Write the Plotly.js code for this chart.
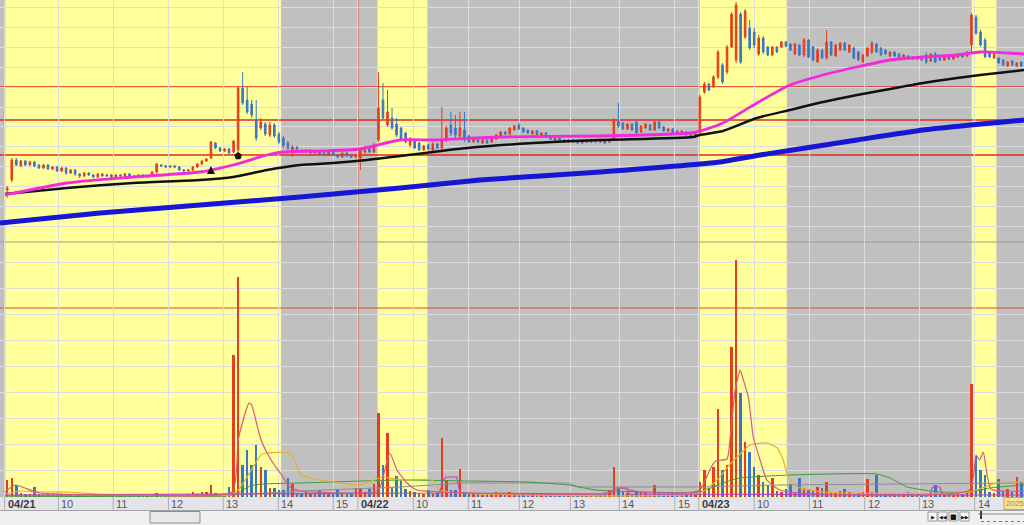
<!DOCTYPE html>
<html><head><meta charset="utf-8">
<script src="https://cdn.plot.ly/plotly-3.0.1.min.js"></script>
<style>html,body{margin:0;padding:0;background:#F0F0F0;overflow:hidden}#chart{width:1024px;height:525px}</style>
</head><body><div id="chart"></div>
<script>
// ---- candles (5-minute bars, arbitrary price units) ----
const open = [
60,70,90,84,89,85,88,85,82,85, 81,83,79,82,77,80,76,74,77,75,
73,76,74,75,73,75,74,76,74,73, 75,73,74,78,85,84,83,84,83,80,
79,80,83,86,89,92,107,102,99,101, 98,100,162,150,146,130,122,126,115,125,
116,112,107,100,103,100,98,100,97,99, 97,95,98,95,93,97,94,93,
92,98,102,98,110,150,125,132,126,122, 117,105,110,107,100,105,100,106,102,110,
125,122,114,120,114,108,112,107,110,108, 111,114,118,116,120,125,122,120,116,119,
114,117,114,110,112,110,108,110,109,107, 109,108,110,108,109,108,110,129,127,121,
126,128,118,122,125,120,128,123,119,121, 119,116,118,116,113,
117,158,166,163,173,185,178,203,190,236, 213,222,218,196,212,203,195,203,203,208,
206,196,205,195,210,203,188,200,192,208, 194,200,207,198,202,198,188,194,198,206,
202,200,194,198,196,193,194,193,191,193, 195,189,196,194,190,194,191,193,196,194,
205,233,218,210,197,192,192,190,184,189, 184,188];
const high = [
64,92,92,90,90,89,89,86,86,86, 84,84,83,83,81,81,77,78,78,76,
77,77,76,76,76,76,77,77,75,76, 76,75,79,87,86,85,85,85,84,81,
81,84,87,90,92,109,108,103,102,102, 110,164,178,163,150,150,132,128,128,127,
118,114,109,105,104,101,101,101,100,100, 98,99,99,96,98,98,95,96,
102,104,103,107,178,167,160,142,132,123, 118,113,111,108,105,106,108,107,143,124,
138,135,138,138,115,113,113,111,111,113, 116,119,119,123,125,127,123,121,120,120,
118,118,115,113,113,111,111,111,110,110, 110,111,111,110,110,111,132,147,128,127,
127,129,125,127,126,129,129,124,122,122, 120,120,119,117,119,
155,168,167,175,200,187,205,238,248,238, 241,230,222,215,214,204,204,204,209,209,
207,207,206,212,211,204,202,201,220,209, 206,208,208,206,203,199,196,203,209,207,
203,201,199,199,197,196,195,194,194,194, 198,197,198,195,195,195,196,197,197,199,
237,235,220,212,198,197,193,191,189,190, 188,189];
const low = [
52,68,84,83,84,84,83,81,81,80, 80,78,78,75,76,74,72,73,74,72,
72,73,73,72,72,73,73,73,72,72, 72,72,73,77,83,82,82,82,79,78,
78,79,82,85,88,91,101,98,98,96, 97,95,145,136,132,109,120,114,113,112,
106,102,100,93,98,97,97,96,96,95, 94,94,94,92,92,93,92,92,
80,96,97,97,108,130,123,120,113,109, 107,103,101,99,99,100,99,101,100,108,
114,112,112,108,107,107,107,106,106,107, 110,113,115,115,119,120,117,116,115,114,
113,112,110,109,108,107,107,107,106,106, 107,107,107,107,106,107,109,122,120,120,
119,116,117,121,119,119,121,118,118,116, 115,115,114,112,112,
115,156,159,162,171,166,176,202,187,186, 211,200,202,194,196,194,194,197,202,203,
199,195,194,193,192,189,187,191,190,194, 193,199,199,197,191,189,187,193,196,197,
194,195,193,193,192,192,191,190,190,189, 186,188,187,189,189,190,190,192,192,193,
198,215,203,192,192,191,186,184,183,184, 183,183];
const close = [
62,90,85,89,85,88,84,82,85,81, 83,79,82,77,80,76,74,77,75,73,
76,74,75,73,75,74,76,74,73,75, 73,74,78,86,84,83,84,83,80,79,
80,83,86,89,91,108,102,99,101,97, 109,162,147,138,135,112,128,116,125,114,
108,104,102,103,99,98,100,97,99,96, 95,98,95,93,97,94,93,95,
100,102,98,105,142,132,138,122,115,110, 108,111,102,100,104,101,106,102,110,122,
117,115,122,110,108,112,108,110,107,112, 115,118,116,122,124,121,118,117,119,115,
117,113,111,112,109,108,110,108,107,109, 108,110,108,109,107,110,130,124,121,126,
120,117,124,126,120,128,122,119,121,117, 116,119,115,113,118,
153,166,160,173,198,168,203,236,245,188, 239,202,205,212,198,195,203,198,208,204,
200,206,195,210,193,190,200,192,208,195, 205,207,200,205,192,190,195,202,207,198,
195,196,198,194,193,195,192,191,193,190, 188,196,188,190,194,191,195,196,193,198,
235,217,205,193,193,196,187,185,188,185, 187,184];
const volume = [
17,19,12,4,3,3,10,3,2,3, 2,2,3,2,2,1,2,2,1,2,
2,1,2,2,1,2,1,2,1,2, 2,3,2,4,2,1,2,1,2,2,
3,5,3,5,5,12,4,3,3,10, 142,220,32,47,32,52,30,27,9,9,
7,7,19,13,4,3,5,3,4,7, 3,3,4,8,3,3,4,9,
9,5,8,13,84,32,64,10,21,17, 8,6,5,4,3,7,3,4,59,17,
7,7,28,5,3,4,3,2,3,4, 5,4,3,5,4,3,3,2,3,2,
3,2,2,3,2,2,3,2,2,3, 2,2,3,2,3,7,30,8,5,4,
3,6,5,4,3,12,4,3,3,4, 3,2,3,4,3,
15,27,9,30,88,27,32,150,237,104, 55,45,30,22,15,12,19,6,5,8,
13,4,19,9,8,6,10,9,15,5, 4,6,8,5,3,4,5,18,5,22,
4,3,4,3,3,4,5,3,3,2, 3,4,12,3,2,3,2,3,3,4,
113,41,27,22,5,4,18,6,8,5, 20,15];

// ---- price moving averages (bar position, value) ----
const maFastX = [-0.5,13.2,27.8,42.6,49.9,57.4,60.9,69.1,77.9,86.8,94.1,108.9,131,150.8,153,158.1,165.6,172.9,180.2,187.7,195,202.3,209.8,214.9,220.9,224.6];
const maFastY = [55,67,73,78,85,95,98,99,101,110,110,113,114,117,119,127,147,165,175,183,190,193,195,198,197,196];
const maMidX = [-0.5,13.2,27.8,42.6,49.9,57.4,64.7,72,79.5,86.8,101.6,116.2,131,151.5,153,158.1,165.6,172.9,180.2,187.7,195,202.3,209.8,214.9,224.6];
const maMidY = [56,62,67,70,73,80,85,87,90,94,102,107,110,113,115,119,132,140,148,155,161,167,172,175,180];
const maSlowX = [-1.6,20.5,42.6,64.7,86.8,104.4,131,157.5,166.3,187.7,202.3,224.6];
const maSlowY = [27,37,45,53,62,70,78,88,95,110,120,130];

// ---- volume moving averages ----
const vPinkX = [-0.5,1.7,3.9,7.2,11.7,30,49.7,51,52,53,53.4,54,55,56,57.4,59,60.3,62.5,64.7,73.5,81,82.3,84.5,86.1,88.3,90.5,102.2,130.9,133.6,135.4,139.8,150,153,155.5,156.5,159,159.7,160.8,161.9,162.4,163.7,164.8,166.3,167.8,170.7,175.1,212.6,214,214.8,215.6,217.3,224.6];
const vPinkY = [5,12,9,4,3,2,5,57,75,90,94,92,75,58,44,32,24,10,6,4,5,9,44,27,14,7,4,3,6,9,5,4,7,30,36,38,60,107,127,120,100,60,37,17,7,4,7,42,37,45,8,6];
const vGoldX = [-0.5,3,7.2,13,20,49,51,53,54.7,56.3,62.5,63.6,64.7,66.9,72,77.9,83,86.8,94,95.6,100,153,156.8,159.7,161.9,164.1,167.8,170.1,171.4,172.5,174.5,180.2,212.7,217.1,219.3,224.6];
const vGoldY = [3,6,5,5,3,2,7,20,33,43,44,35,23,19,15,12,20,17,17,7,4,4,17,33,43,52,54,49,37,20,10,5,5,12,15,15];
const vGreenX = [-0.5,48,51,53.6,56.5,64.7,86.8,101,115,124,130,153,158,161.9,172.9,192.1,195,198.8,206,213,217,224.6];
const vGreenY = [1,1,4,11,13,14,17,16,15,12,7,5,14,19,22,23,19,10,5,5,9,12];
const vGrayX = [-0.5,50,64.7,86.8,101,124,126,153,170,212,224.6];
const vGrayY = [1,2,6,10,14,14,10,10,12,13,14];
const vPurpleX = [-0.5,95.5,96.3,97,99.3,100,133.5,134,136.9,137.4,203.8,204.4,206,206.6,224.6];
const vPurpleY = [2,4,17,20,20,4,3,9,9,3,2,10,10,2,2];

// ---- time axis ----
const tickLabels = ['04/21','10','11','12','13','14','15','04/22','10','11','12','13','14','15','04/23','10','11','12','13','14'];
const tickPos = [-0.6,11.3,23.4,35.6,47.7,59.9,72.0,77.45,89.7,101.85,113.1,124.4,135.2,147.45,152.75,165.0,177.2,189.4,201.5,213.7];
const dayLines = [-0.6,77.45,152.75];
const bandStart = [-0.5,81.8,152.8,213.05];
const bandEnd = [60.5,92.8,172.2,218.5];
const yearLabel = '2025';

// ---- signal markers ----
const sigX = [45,51];
const sigY = [84,94];
const sigSymbol = ['arrow-up','pentagon'];

// ---- price levels ----
const priceLevels = [163,130,95];
const volumeLevels = [189];

const idx = open.map((_, i) => i);
const RED = '#E63E1A', BLUE = '#3B76C6';
const volColors = idx.map(i => close[i] >= open[i] ? RED : BLUE);

const W = 1024, PH = 497;
const pxX = v => v / W;
const pxY = v => (PH - v) / PH;
const split = 0.5131;

const traces = [
  {type:'bar', x:idx, y:volume, yaxis:'y2', xaxis:'x', width:0.55, marker:{color:volColors, line:{width:0}}, hoverinfo:'skip'},
  {type:'scatter', mode:'lines', x:vGrayX, y:vGrayY, yaxis:'y2', line:{color:'#8E8E8E', width:1}, hoverinfo:'skip'},
  {type:'scatter', mode:'lines', x:vGreenX, y:vGreenY, yaxis:'y2', line:{color:'#3E9A3E', width:1, shape:'spline', smoothing:0.5}, hoverinfo:'skip'},
  {type:'scatter', mode:'lines', x:vGoldX, y:vGoldY, yaxis:'y2', line:{color:'#E2B22C', width:1.2, shape:'spline', smoothing:0.5}, hoverinfo:'skip'},
  {type:'scatter', mode:'lines', x:vPurpleX, y:vPurpleY, yaxis:'y2', line:{color:'#C040C8', width:1.2}, hoverinfo:'skip'},
  {type:'scatter', mode:'lines', x:vPinkX, y:vPinkY, yaxis:'y2', line:{color:'#D65A7C', width:1.2, shape:'spline', smoothing:0.5}, hoverinfo:'skip'},
  {type:'scatter', mode:'lines', x:maSlowX, y:maSlowY, yaxis:'y', line:{color:'#1616D4', width:5, shape:'spline', smoothing:0.4}, hoverinfo:'skip'},
  {type:'scatter', mode:'lines', x:maMidX, y:maMidY, yaxis:'y', line:{color:'#111111', width:2.5, shape:'spline', smoothing:0.6}, hoverinfo:'skip'},
  {type:'scatter', mode:'lines', x:maFastX, y:maFastY, yaxis:'y', line:{color:'#F22ADA', width:2.8, shape:'spline', smoothing:0.6}, hoverinfo:'skip'},
  {type:'candlestick', x:idx, open:open, high:high, low:low, close:close, xaxis:'x', yaxis:'y',
   increasing:{line:{color:RED, width:1}, fillcolor:RED},
   decreasing:{line:{color:BLUE, width:1}, fillcolor:BLUE},
   whiskerwidth:0, hoverinfo:'skip'},
  {type:'scatter', mode:'markers', x:sigX, y:sigY, yaxis:'y', marker:{symbol:sigSymbol, size:8, color:'#111111', line:{width:0}}, hoverinfo:'skip'}
];

const shapes = [];
bandStart.forEach((s, k) => shapes.push({type:'rect', xref:'x', yref:'paper', x0:s, x1:bandEnd[k], y0:0, y1:1, fillcolor:'#FFFF9C', line:{width:0}, layer:'below'}));
shapes.push({type:'line', xref:'paper', yref:'paper', x0:0, x1:1, y0:split, y1:split, line:{color:'#9C9C88', width:1}, layer:'between'});
priceLevels.forEach(v => shapes.push({type:'line', xref:'paper', yref:'y', x0:0, x1:1, y0:v, y1:v, line:{color:'#E02A1E', width:1.6}, layer:'between'}));
volumeLevels.forEach(v => shapes.push({type:'line', xref:'paper', yref:'y2', x0:0, x1:1, y0:v, y1:v, line:{color:'#E0483A', width:1}, layer:'between'}));
dayLines.forEach(v => shapes.push({type:'line', xref:'x', yref:'paper', x0:v, x1:v, y0:0, y1:1, line:{color:'#E0402A', width:1.2}, layer:'between'}));
// axis bar
shapes.push({type:'rect', xref:'paper', yref:'paper', x0:0, x1:1, y0:pxY(510), y1:pxY(497), fillcolor:'#E4E4EA', line:{width:0}, layer:'above'});
tickPos.forEach(v => shapes.push({type:'line', xref:'x', yref:'paper', x0:v, x1:v, y0:pxY(510), y1:pxY(497), line:{color:'#AEAEB6', width:1}, layer:'above'}));
shapes.push({type:'line', xref:'paper', yref:'paper', x0:0, x1:1, y0:pxY(510.5), y1:pxY(510.5), line:{color:'#A4A4A4', width:1}, layer:'above'});
// scrollbar thumb
shapes.push({type:'rect', xref:'paper', yref:'paper', x0:pxX(150), x1:pxX(200), y0:pxY(523), y1:pxY(511.5), fillcolor:'#E8E8E8', line:{color:'#8C8C8C', width:1}, layer:'above'});
// control buttons
const btnX = [[928,937],[938,947],[949,958],[960,969]];
btnX.forEach(b => shapes.push({type:'rect', xref:'paper', yref:'paper', x0:pxX(b[0]), x1:pxX(b[1]), y0:pxY(521), y1:pxY(512), fillcolor:'#F7F7F7', line:{color:'#9A9A9A', width:1}, layer:'above'}));
// slider
shapes.push({type:'line', xref:'paper', yref:'paper', x0:pxX(978), x1:1, y0:pxY(514), y1:pxY(514), line:{color:'#8A8A8A', width:1}, layer:'above'});
shapes.push({type:'line', xref:'paper', yref:'paper', x0:pxX(981), x1:pxX(981), y0:pxY(519), y1:pxY(511), line:{color:'#404040', width:2}, layer:'above'});
shapes.push({type:'line', xref:'paper', yref:'paper', x0:pxX(981), x1:1, y0:pxY(521.5), y1:pxY(521.5), line:{color:'#7A7A7A', width:1, dash:'dot'}, layer:'above'});
// year box
shapes.push({type:'rect', xref:'paper', yref:'paper', x0:pxX(1004), x1:pxX(1030), y0:pxY(509.5), y1:pxY(497.5), fillcolor:'#F4E49C', line:{color:'#C8A84C', width:1}, layer:'above'});

const annotations = tickLabels.map((t, k) => ({
  xref:'x', yref:'paper', x:tickPos[k], y:pxY(503.8), xanchor:'left', yanchor:'middle', xshift:1,
  text: t.includes('/') ? '<b>' + t + '</b>' : t, showarrow:false,
  font:{family:'Liberation Sans, Arial, sans-serif', size:11, color: t.includes('/') ? '#3C3C3C' : '#585858'}
}));
const glyphs = ['▶','◀◀','■','▶▶'];
btnX.forEach((b, k) => annotations.push({xref:'paper', yref:'paper', x:pxX((b[0]+b[1])/2), y:pxY(516.5), xanchor:'center', yanchor:'middle', text:glyphs[k], showarrow:false, font:{family:'DejaVu Sans', size:k===2?7:5, color:'#111'}}));
annotations.push({xref:'paper', yref:'paper', x:pxX(1024), y:pxY(503.8), xanchor:'right', yanchor:'middle', xshift:1, text:yearLabel, showarrow:false, borderpad:0, font:{family:'Liberation Sans, Arial, sans-serif', size:8, color:'#B08A2E'}});

const layout = {
  width:1024, height:525, margin:{l:0, r:0, t:0, b:28, pad:0},
  paper_bgcolor:'#F0F0F0', plot_bgcolor:'#C0C0C0',
  showlegend:false, hovermode:false, dragmode:false, boxgap:0.5, bargap:0,
  xaxis:{range:[-1.6,224.6], tickvals:tickPos, showticklabels:false, ticks:'', showgrid:true, gridcolor:'#DCDCDC', gridwidth:1,
         zeroline:false, showline:false, rangeslider:{visible:false}, anchor:'y2', fixedrange:true},
  yaxis:{domain:[split,1], range:[8,250], tick0:3, dtick:20, showticklabels:false, ticks:'', showgrid:true, gridcolor:'#DCDCDC',
         zeroline:false, showline:false, fixedrange:true},
  yaxis2:{domain:[0,split], range:[0,255], tick0:0, dtick:26, showticklabels:false, ticks:'', showgrid:true, gridcolor:'#DCDCDC',
          zeroline:false, showline:false, fixedrange:true},
  shapes:shapes, annotations:annotations
};

Plotly.newPlot('chart', traces, layout, {staticPlot:true, displayModeBar:false});
</script></body></html>
